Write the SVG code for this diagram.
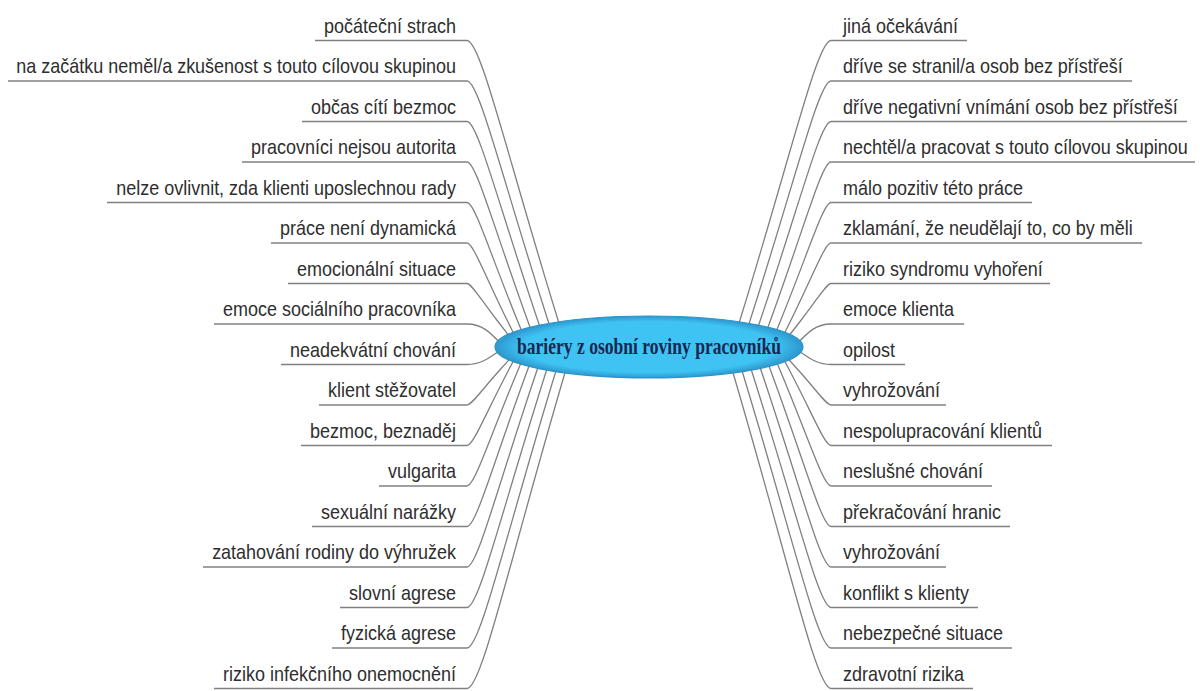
<svg xmlns="http://www.w3.org/2000/svg" width="1200" height="691" viewBox="0 0 1200 691">
<style>
.lbl{font-family:"Liberation Sans",Arial,sans-serif;font-size:18px;fill:#2e2e2e}
.l{text-anchor:end}
.ul{stroke:#808080;stroke-width:1.4;fill:none}
.cn path{stroke:#808080;stroke-width:1.3;fill:none}
.ctr{font-family:"Liberation Serif","Times New Roman",serif;font-weight:bold;font-size:20px;fill:#1b2753;text-anchor:middle}
</style>
<defs>
<radialGradient id="eg" cx="0.5" cy="0.5" r="0.5">
<stop offset="0.82" stop-color="#3fc3f2"/>
<stop offset="1" stop-color="#2c98cf"/>
</radialGradient>
</defs>
<rect width="1200" height="691" fill="#ffffff"/>
<g id="connectors" class="cn">
<path d="M467 40.5C480.7 40.5 506.1 152.3 558 320L565.7 345"/>
<path d="M467 81C479.1 81 501.7 176.6 547.8 320L555.8 345"/>
<path d="M467 121.5C477.6 121.5 497.4 200.9 537.6 320L546 345"/>
<path d="M467 162C476.1 162 493 225.2 527.4 320L536.5 345"/>
<path d="M467 202.5C474.5 202.5 488.6 249.5 517.2 320L527.3 345"/>
<path d="M467 243C473 243 484.2 273.8 507 320L519.3 345"/>
<path d="M467 283.5C471.5 283.5 479.8 298.1 496.8 320L516.2 345"/>
<path d="M467 324C482 324 490 332 502 345"/>
<path d="M467 364.5C482 364.5 490 357 502 349"/>
<path d="M467 405C471.7 405 480.3 391.8 498 372L518.6 349"/>
<path d="M467 445.5C473.1 445.5 484.5 416.1 507.6 372L519.7 349"/>
<path d="M467 486C474.5 486 488.6 440.4 517.2 372L526.8 349"/>
<path d="M467 526.5C476 526.5 492.7 464.7 526.8 372L535.3 349"/>
<path d="M467 567C477.4 567 496.8 489 536.4 372L544.2 349"/>
<path d="M467 607.5C478.9 607.5 501 513.3 546 372L553.3 349"/>
<path d="M467 648C480.3 648 505.1 537.6 555.6 372L562.6 349"/>
<path d="M467 688.5C481.7 688.5 509.2 561.9 565.2 372L572 349"/>
<path d="M831 40.5C817.3 40.5 791.9 152.3 740 320L732.3 345"/>
<path d="M831 81C818.9 81 796.3 176.6 750.2 320L742.2 345"/>
<path d="M831 121.5C820.4 121.5 800.6 200.9 760.4 320L752 345"/>
<path d="M831 162C821.9 162 805 225.2 770.6 320L761.5 345"/>
<path d="M831 202.5C823.5 202.5 809.4 249.5 780.8 320L770.7 345"/>
<path d="M831 243C825 243 813.8 273.8 791 320L778.7 345"/>
<path d="M831 283.5C826.5 283.5 818.2 298.1 801.2 320L781.8 345"/>
<path d="M831 324C816 324 808 332 796 345"/>
<path d="M831 364.5C816 364.5 808 357 796 349"/>
<path d="M831 405C826.3 405 817.7 391.8 800 372L779.4 349"/>
<path d="M831 445.5C824.9 445.5 813.5 416.1 790.4 372L778.3 349"/>
<path d="M831 486C823.5 486 809.4 440.4 780.8 372L771.2 349"/>
<path d="M831 526.5C822 526.5 805.3 464.7 771.2 372L762.7 349"/>
<path d="M831 567C820.6 567 801.2 489 761.6 372L753.8 349"/>
<path d="M831 607.5C819.1 607.5 797 513.3 752 372L744.7 349"/>
<path d="M831 648C817.7 648 792.9 537.6 742.4 372L735.4 349"/>
<path d="M831 688.5C816.3 688.5 788.8 561.9 732.8 372L726 349"/>
</g>
<g id="center">
<ellipse cx="649" cy="347" rx="154" ry="31" fill="url(#eg)" stroke="#2e93c8" stroke-width="1.2"/>
<text class="ctr" transform="translate(649 354) scale(1 1.2)" textLength="264" lengthAdjust="spacingAndGlyphs">bariéry z osobní roviny pracovníků</text>
</g>
<g id="left-nodes">
<g id="l0"><line class="ul" x1="315" y1="40.5" x2="467" y2="40.5"/><text class="lbl l" transform="translate(456 32.5) scale(1 1.15)">počáteční strach</text></g>
<g id="l1"><line class="ul" x1="8" y1="81" x2="467" y2="81"/><text class="lbl l" transform="translate(456 73) scale(1 1.15)">na začátku neměl/a zkušenost s touto cílovou skupinou</text></g>
<g id="l2"><line class="ul" x1="302" y1="121.5" x2="467" y2="121.5"/><text class="lbl l" transform="translate(456 113.5) scale(1 1.15)">občas cítí bezmoc</text></g>
<g id="l3"><line class="ul" x1="242" y1="162" x2="467" y2="162"/><text class="lbl l" transform="translate(456 154) scale(1 1.15)">pracovníci nejsou autorita</text></g>
<g id="l4"><line class="ul" x1="107" y1="202.5" x2="467" y2="202.5"/><text class="lbl l" transform="translate(456 194.5) scale(1 1.15)">nelze ovlivnit, zda klienti uposlechnou rady</text></g>
<g id="l5"><line class="ul" x1="271" y1="243" x2="467" y2="243"/><text class="lbl l" transform="translate(456 235) scale(1 1.15)">práce není dynamická</text></g>
<g id="l6"><line class="ul" x1="288" y1="283.5" x2="467" y2="283.5"/><text class="lbl l" transform="translate(456 275.5) scale(1 1.15)">emocionální situace</text></g>
<g id="l7"><line class="ul" x1="214" y1="324" x2="467" y2="324"/><text class="lbl l" transform="translate(456 316) scale(1 1.15)">emoce sociálního pracovníka</text></g>
<g id="l8"><line class="ul" x1="281" y1="364.5" x2="467" y2="364.5"/><text class="lbl l" transform="translate(456 356.5) scale(1 1.15)">neadekvátní chování</text></g>
<g id="l9"><line class="ul" x1="319" y1="405" x2="467" y2="405"/><text class="lbl l" transform="translate(456 397) scale(1 1.15)">klient stěžovatel</text></g>
<g id="l10"><line class="ul" x1="301" y1="445.5" x2="467" y2="445.5"/><text class="lbl l" transform="translate(456 437.5) scale(1 1.15)">bezmoc, beznaděj</text></g>
<g id="l11"><line class="ul" x1="379" y1="486" x2="467" y2="486"/><text class="lbl l" transform="translate(456 478) scale(1 1.15)">vulgarita</text></g>
<g id="l12"><line class="ul" x1="312" y1="526.5" x2="467" y2="526.5"/><text class="lbl l" transform="translate(456 518.5) scale(1 1.15)">sexuální narážky</text></g>
<g id="l13"><line class="ul" x1="203" y1="567" x2="467" y2="567"/><text class="lbl l" transform="translate(456 559) scale(1 1.15)">zatahování rodiny do výhružek</text></g>
<g id="l14"><line class="ul" x1="340" y1="607.5" x2="467" y2="607.5"/><text class="lbl l" transform="translate(456 599.5) scale(1 1.15)">slovní agrese</text></g>
<g id="l15"><line class="ul" x1="332" y1="648" x2="467" y2="648"/><text class="lbl l" transform="translate(456 640) scale(1 1.15)">fyzická agrese</text></g>
<g id="l16"><line class="ul" x1="214" y1="688.5" x2="467" y2="688.5"/><text class="lbl l" transform="translate(456 680.5) scale(1 1.15)">riziko infekčního onemocnění</text></g>
</g>
<g id="right-nodes">
<g id="r0"><line class="ul" x1="831" y1="40.5" x2="967" y2="40.5"/><text class="lbl" transform="translate(843 32.5) scale(1 1.15)">jiná očekávání</text></g>
<g id="r1"><line class="ul" x1="831" y1="81" x2="1132" y2="81"/><text class="lbl" transform="translate(843 73) scale(1 1.15)">dříve se stranil/a osob bez přístřeší</text></g>
<g id="r2"><line class="ul" x1="831" y1="121.5" x2="1187" y2="121.5"/><text class="lbl" transform="translate(843 113.5) scale(1 1.15)">dříve negativní vnímání osob bez přístřeší</text></g>
<g id="r3"><line class="ul" x1="831" y1="162" x2="1195" y2="162"/><text class="lbl" transform="translate(843 154) scale(1 1.15)">nechtěl/a pracovat s touto cílovou skupinou</text></g>
<g id="r4"><line class="ul" x1="831" y1="202.5" x2="1032" y2="202.5"/><text class="lbl" transform="translate(843 194.5) scale(1 1.15)">málo pozitiv této práce</text></g>
<g id="r5"><line class="ul" x1="831" y1="243" x2="1142" y2="243"/><text class="lbl" transform="translate(843 235) scale(1 1.15)">zklamání, že neudělají to, co by měli</text></g>
<g id="r6"><line class="ul" x1="831" y1="283.5" x2="1050" y2="283.5"/><text class="lbl" transform="translate(843 275.5) scale(1 1.15)">riziko syndromu vyhoření</text></g>
<g id="r7"><line class="ul" x1="831" y1="324" x2="964" y2="324"/><text class="lbl" transform="translate(843 316) scale(1 1.15)">emoce klienta</text></g>
<g id="r8"><line class="ul" x1="831" y1="364.5" x2="905" y2="364.5"/><text class="lbl" transform="translate(843 356.5) scale(1 1.15)">opilost</text></g>
<g id="r9"><line class="ul" x1="831" y1="405" x2="946" y2="405"/><text class="lbl" transform="translate(843 397) scale(1 1.15)">vyhrožování</text></g>
<g id="r10"><line class="ul" x1="831" y1="445.5" x2="1052" y2="445.5"/><text class="lbl" transform="translate(843 437.5) scale(1 1.15)">nespolupracování klientů</text></g>
<g id="r11"><line class="ul" x1="831" y1="486" x2="992" y2="486"/><text class="lbl" transform="translate(843 478) scale(1 1.15)">neslušné chování</text></g>
<g id="r12"><line class="ul" x1="831" y1="526.5" x2="1010" y2="526.5"/><text class="lbl" transform="translate(843 518.5) scale(1 1.15)">překračování hranic</text></g>
<g id="r13"><line class="ul" x1="831" y1="567" x2="946" y2="567"/><text class="lbl" transform="translate(843 559) scale(1 1.15)">vyhrožování</text></g>
<g id="r14"><line class="ul" x1="831" y1="607.5" x2="978" y2="607.5"/><text class="lbl" transform="translate(843 599.5) scale(1 1.15)">konflikt s klienty</text></g>
<g id="r15"><line class="ul" x1="831" y1="648" x2="1012" y2="648"/><text class="lbl" transform="translate(843 640) scale(1 1.15)">nebezpečné situace</text></g>
<g id="r16"><line class="ul" x1="831" y1="688.5" x2="973" y2="688.5"/><text class="lbl" transform="translate(843 680.5) scale(1 1.15)">zdravotní rizika</text></g>
</g>
</svg>
